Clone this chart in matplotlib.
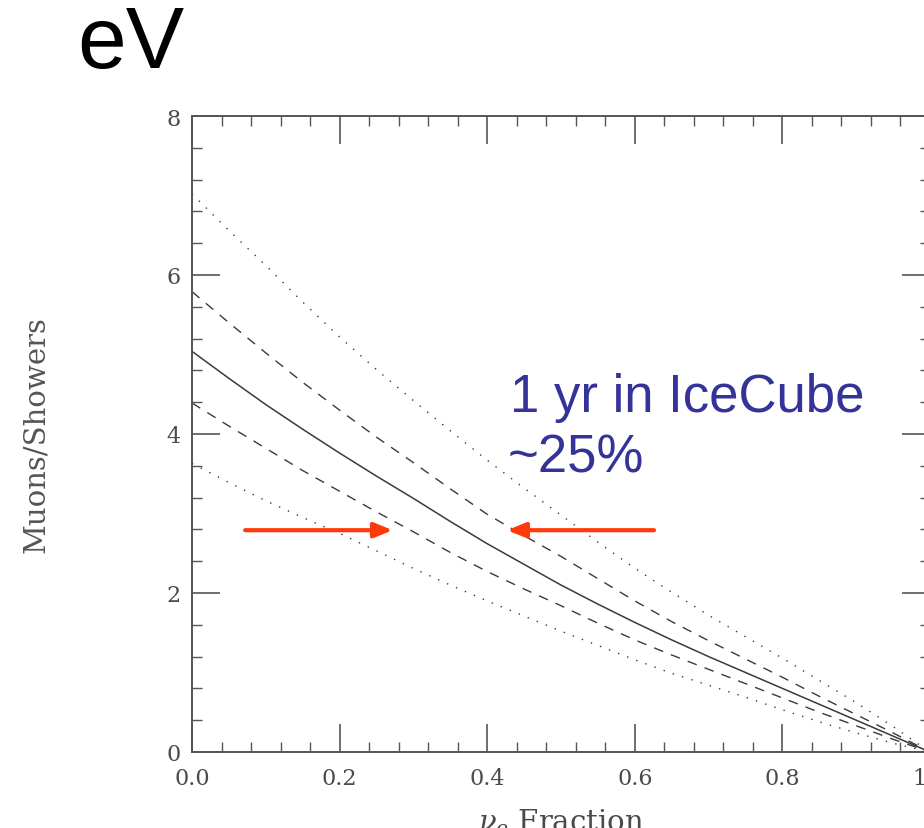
import matplotlib
matplotlib.use("Agg")
import matplotlib.pyplot as plt
from matplotlib.ticker import MultipleLocator

# Values
frac = [0.0, 0.05, 0.1, 0.15, 0.2, 0.25, 0.3, 0.35, 0.4, 0.45, 0.5,
        0.55, 0.6, 0.65, 0.7, 0.75, 0.8, 0.85, 0.9, 0.95, 1.0]
upper_dotted = [7.02, 6.56, 6.12, 5.66, 5.22, 4.81, 4.42, 4.04, 3.67, 3.32, 2.98,
                2.64, 2.31, 2.01, 1.72, 1.45, 1.18, 0.90, 0.62, 0.32, 0.0]
upper_dashed = [5.79, 5.40, 5.02, 4.65, 4.30, 3.96, 3.64, 3.31, 2.99, 2.72, 2.46,
                2.18, 1.90, 1.64, 1.40, 1.17, 0.94, 0.70, 0.47, 0.24, 0.0]
central = [5.04, 4.70, 4.37, 4.06, 3.76, 3.47, 3.19, 2.90, 2.62, 2.36, 2.10,
           1.86, 1.63, 1.41, 1.20, 1.00, 0.80, 0.60, 0.40, 0.20, 0.0]
lower_dashed = [4.39, 4.10, 3.82, 3.54, 3.28, 3.02, 2.77, 2.51, 2.27, 2.05, 1.84,
                1.62, 1.41, 1.22, 1.04, 0.86, 0.68, 0.50, 0.33, 0.16, 0.0]
lower_dotted = [3.63, 3.39, 3.16, 2.95, 2.75, 2.53, 2.31, 2.10, 1.90, 1.71, 1.52,
                1.34, 1.16, 0.99, 0.84, 0.69, 0.53, 0.38, 0.24, 0.11, 0.0]

# red arrows (start x, end x, y level)
arrow_left = (0.072, 0.272)
arrow_right = (0.626, 0.427)
arrow_y = 2.79

plt.rcParams['mathtext.fontset'] = 'dejavuserif'

fig = plt.figure(figsize=(9.24, 8.29), dpi=100)
ax = fig.add_axes([192/924, 76/829, 738/924, 636/829])

line_col = '#3a3a3a'
ax.plot(frac, upper_dotted, color=line_col, lw=1.0, linestyle=(0, (1, 6)))
ax.plot(frac, upper_dashed, color=line_col, lw=1.0, linestyle=(0, (7, 6)))
ax.plot(frac, central, color=line_col, lw=1.1)
ax.plot(frac, lower_dashed, color=line_col, lw=1.0, linestyle=(0, (7, 6)))
ax.plot(frac, lower_dotted, color=line_col, lw=1.0, linestyle=(0, (1, 6)))

ax.set_xlim(0, 1)
ax.set_ylim(0, 8)

# axis look
for s in ax.spines.values():
    s.set_color('#555555')
    s.set_linewidth(1.4)
ax.xaxis.set_major_locator(MultipleLocator(0.2))
ax.xaxis.set_minor_locator(MultipleLocator(0.04))
ax.yaxis.set_major_locator(MultipleLocator(2))
ax.yaxis.set_minor_locator(MultipleLocator(0.4))
ax.xaxis.set_major_formatter(plt.FuncFormatter(lambda v, p: f"{v:.1f}"))
ax.yaxis.set_major_formatter(plt.FuncFormatter(lambda v, p: f"{v:.0f}"))
ax.tick_params(which='both', direction='in', top=True, right=True, color='#555555')
ax.tick_params(which='major', length=20, width=1.2, labelsize=16, labelcolor='#4a4a4a')
ax.tick_params(which='minor', length=7, width=1.0)
ax.tick_params(axis='x', which='major', pad=11)
ax.tick_params(axis='y', which='major', pad=8)
for lab in ax.get_xticklabels() + ax.get_yticklabels():
    lab.set_family('DejaVu Serif')

ax.set_xlabel(r'$\nu_e$ Fraction', fontsize=21, family='DejaVu Serif', color='#4a4a4a')
ax.set_ylabel('Muons/Showers', fontsize=21, family='DejaVu Serif', color='#555555')
ax.xaxis.set_label_coords(0.5, -0.085)
ax.yaxis.set_label_coords(-0.192, 0.5)

# red arrows
red = '#ff3a0a'
for x0, x1 in (arrow_left, arrow_right):
    ax.annotate('', xy=(x1, arrow_y), xytext=(x0, arrow_y),
                arrowprops=dict(arrowstyle='-|>,head_length=1.1,head_width=0.45',
                                color=red, lw=3, shrinkA=0, shrinkB=0))

# annotation text
blue = '#333399'
fig.text(510/924, (829-412)/829, '1 yr in IceCube', fontsize=38,
         family='Liberation Sans', color=blue, va='baseline')
fig.text(508/924, (829-473)/829, '~25%', fontsize=38,
         family='Liberation Sans', color=blue, va='baseline')

fig.text(77/924, (829-68)/829, 'eV', fontsize=63, family='Liberation Sans',
         color='black', va='baseline')

fig.savefig('out.png', dpi=100)
